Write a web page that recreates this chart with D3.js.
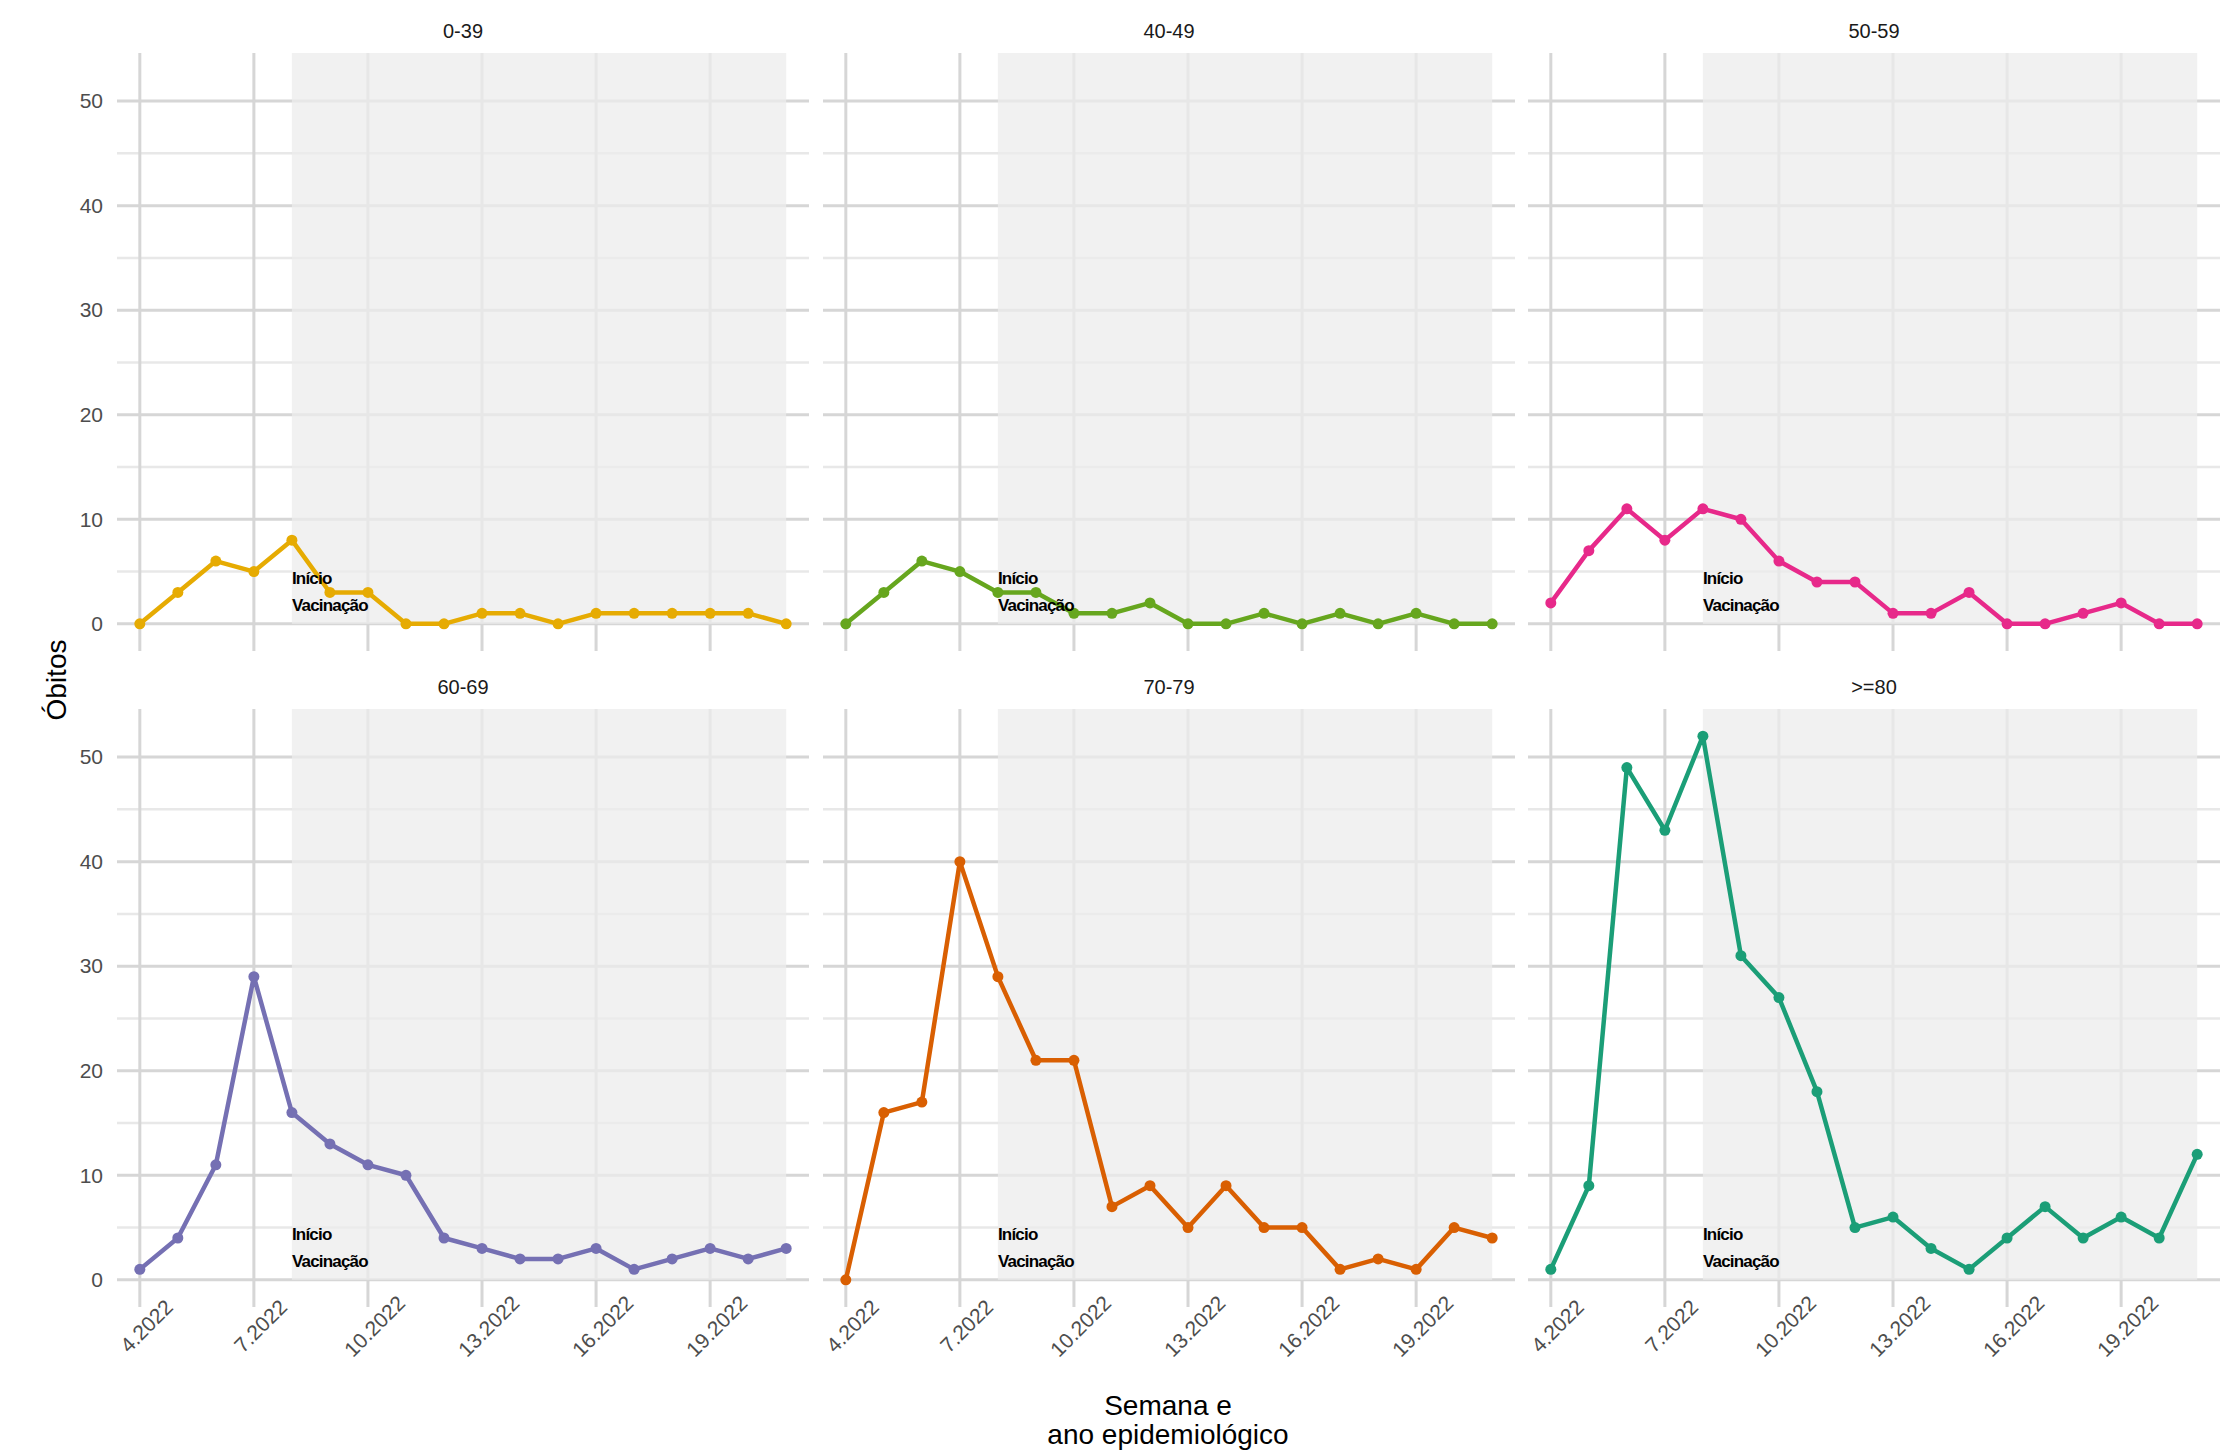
<!DOCTYPE html>
<html>
<head>
<meta charset="utf-8">
<script src="https://cdn.jsdelivr.net/npm/d3@7"></script>
<style>
  body { margin: 0; background: #fff; }
  text { font-family: "Liberation Sans", Arial, sans-serif; }
</style>
</head>
<body>
<div id="my_dataviz"></div>
<script>
// weeks (discrete x axis)
var weekLabels = ["4.2022", "5.2022", "6.2022", "7.2022", "8.2022", "9.2022", "10.2022", "11.2022", "12.2022",
    "13.2022", "14.2022", "15.2022", "16.2022", "17.2022", "18.2022", "19.2022", "20.2022", "21.2022"]
var tickWeeks = ["4.2022", "7.2022", "10.2022", "13.2022", "16.2022", "19.2022"]
var vacStart = "8.2022"

var ageGroups = ["0-39", "40-49", "50-59", "60-69", "70-79", ">=80"]

// deaths per week, one array per age group
var deaths_0_39 = [0, 3, 6, 5, 8, 3, 3, 0, 0, 1, 1, 0, 1, 1, 1, 1, 1, 0]
var deaths_40_49 = [0, 3, 6, 5, 3, 3, 1, 1, 2, 0, 0, 1, 0, 1, 0, 1, 0, 0]
var deaths_50_59 = [2, 7, 11, 8, 11, 10, 6, 4, 4, 1, 1, 3, 0, 0, 1, 2, 0, 0]
var deaths_60_69 = [1, 4, 11, 29, 16, 13, 11, 10, 4, 3, 2, 2, 3, 1, 2, 3, 2, 3]
var deaths_70_79 = [0, 16, 17, 40, 29, 21, 21, 7, 9, 5, 9, 5, 5, 1, 2, 1, 5, 4]
var deaths_80 = [1, 9, 49, 43, 52, 31, 27, 18, 5, 6, 3, 1, 4, 7, 4, 6, 4, 12]
var seriesValues = [deaths_0_39, deaths_40_49, deaths_50_59, deaths_60_69, deaths_70_79, deaths_80]

var yTicks = [0, 10, 20, 30, 40, 50]
var yMinor = [5, 15, 25, 35, 45]

// Dark2 colours
var groupColors = ["#E6AB02", "#66A61E", "#E7298A", "#7570B3", "#D95F02", "#1B9E77"]

// layout
var W = 2240, H = 1453
var panelLeft = [117, 823, 1528]
var panelTop = [53, 709]
var panelW = 692, panelH = 598

var svg = d3.select("#my_dataviz")
    .append("svg")
    .attr("width", W)
    .attr("height", H)

svg.append("rect").attr("width", W).attr("height", H).attr("fill", "#fff")

var maxVal = d3.max(seriesValues, function(s) { return d3.max(s) })

var x = d3.scalePoint()
    .domain(weekLabels)
    .range([0, panelW])
    .padding(0.6)

var y = d3.scaleLinear()
    .domain([-0.05 * maxVal, 1.05 * maxVal])
    .range([panelH, 0])

var line = d3.line()
    .x(function(d, i) { return x(weekLabels[i]) })
    .y(function(d) { return y(d) })

ageGroups.forEach(function(group, i) {
    var col = i % 3, row = Math.floor(i / 3)
    var g = svg.append("g")
        .attr("transform", "translate(" + panelLeft[col] + "," + panelTop[row] + ")")

    // grid
    g.selectAll(".minor")
        .data(yMinor)
        .enter()
        .append("line")
        .attr("x1", 0).attr("x2", panelW)
        .attr("y1", function(d) { return y(d) })
        .attr("y2", function(d) { return y(d) })
        .attr("stroke", "#e8e8e8")
        .attr("stroke-width", 2.5)

    g.selectAll(".major")
        .data(yTicks)
        .enter()
        .append("line")
        .attr("x1", 0).attr("x2", panelW)
        .attr("y1", function(d) { return y(d) })
        .attr("y2", function(d) { return y(d) })
        .attr("stroke", "#d6d6d6")
        .attr("stroke-width", 3)

    g.selectAll(".vgrid")
        .data(tickWeeks)
        .enter()
        .append("line")
        .attr("x1", function(d) { return x(d) })
        .attr("x2", function(d) { return x(d) })
        .attr("y1", 0).attr("y2", panelH)
        .attr("stroke", "#d6d6d6")
        .attr("stroke-width", 3)

    // vaccination period shading
    g.append("rect")
        .attr("x", x(vacStart))
        .attr("y", 0)
        .attr("width", x(weekLabels[weekLabels.length - 1]) - x(vacStart))
        .attr("height", y(0))
        .attr("fill", "#ececec")
        .attr("opacity", 0.75)

    // strip label
    g.append("text")
        .attr("x", panelW / 2)
        .attr("y", -22)
        .attr("text-anchor", "middle")
        .attr("dominant-baseline", "central")
        .attr("font-size", 20)
        .attr("fill", "#1a1a1a")
        .text(group)

    // line and points
    var values = seriesValues[i]
    g.append("path")
        .datum(values)
        .attr("d", line)
        .attr("fill", "none")
        .attr("stroke", groupColors[i])
        .attr("stroke-width", 4.5)
        .attr("stroke-linejoin", "round")

    g.selectAll(".pt")
        .data(values)
        .enter()
        .append("circle")
        .attr("cx", function(d, j) { return x(weekLabels[j]) })
        .attr("cy", function(d) { return y(d) })
        .attr("r", 5.5)
        .attr("fill", groupColors[i])

    // annotation
    var ann = g.append("text")
        .attr("x", x(vacStart))
        .attr("y", y(3))
        .attr("font-size", 17)
        .attr("font-weight", "bold")
        .attr("letter-spacing", -0.8)
        .attr("fill", "#000")
    ann.append("tspan").attr("x", x(vacStart)).attr("dy", -8).text("Início")
    ann.append("tspan").attr("x", x(vacStart)).attr("dy", 27).text("Vacinação")

    // y axis on left column
    if (col == 0) {
        var ya = g.append("g")
            .call(d3.axisLeft(y).tickValues(yTicks).tickSize(0).tickPadding(14))
        ya.select(".domain").remove()
        ya.selectAll("text")
            .attr("font-size", 21)
            .attr("font-family", "Liberation Sans, Arial, sans-serif")
            .attr("fill", "#4d4d4d")
    }

    // x axis on bottom row
    if (row == 1) {
        var xa = g.append("g")
            .attr("transform", "translate(0," + panelH + ")")
            .call(d3.axisBottom(x).tickValues(tickWeeks).tickSize(0))
        xa.select(".domain").remove()
        xa.selectAll("text")
            .attr("y", 0)
            .attr("dy", null)
            .attr("text-anchor", "middle")
            .attr("dominant-baseline", "central")
            .attr("transform", "translate(6,19) rotate(-45)")
            .attr("font-size", 21)
            .attr("font-family", "Liberation Sans, Arial, sans-serif")
            .attr("fill", "#4d4d4d")
    }
})

// axis titles
var xTitle = svg.append("text")
    .attr("text-anchor", "middle")
    .attr("font-size", 28)
    .attr("fill", "#000")
xTitle.append("tspan").attr("x", 1168).attr("y", 1415).text("Semana e")
xTitle.append("tspan").attr("x", 1168).attr("y", 1444).text("ano epidemiológico")

svg.append("text")
    .attr("transform", "translate(66,680) rotate(-90)")
    .attr("text-anchor", "middle")
    .attr("font-size", 28)
    .attr("fill", "#000")
    .text("Óbitos")
</script>
</body>
</html>
